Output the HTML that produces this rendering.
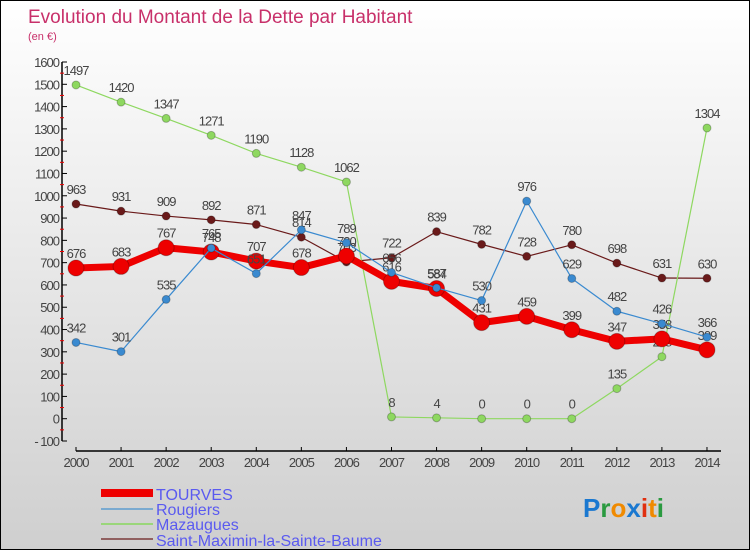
<!DOCTYPE html>
<html><head><meta charset="utf-8"><style>
body{margin:0}
#c{position:relative;width:748px;height:548px;border:1px solid #000;background:linear-gradient(#ffffff,#cfcfcf);font-family:"Liberation Sans",sans-serif;overflow:hidden}
svg text{font-family:"Liberation Sans",sans-serif}
</style></head><body>
<div id="c">
<svg id="s" width="748" height="548">
<text x="27" y="22" font-size="19" fill="#c8306a">Evolution du Montant de la Dette par Habitant</text>
<text x="27" y="39" font-size="11" fill="#c8306a">(en €)</text>
<g id="axes"></g><g id="series"></g>
<g>
<rect x="100" y="488" width="52" height="8" fill="#ee0000"/>
<text x="155" y="499" font-size="16" fill="#5a5af0">TOURVES</text>
<rect x="100" y="507" width="52" height="2" fill="#7aaad0"/>
<text x="155" y="514" font-size="16" fill="#5a5af0">Rougiers</text>
<rect x="100" y="522" width="52" height="2" fill="#9ad67a"/>
<text x="155" y="529" font-size="16" fill="#5a5af0">Mazaugues</text>
<rect x="100" y="537" width="52" height="2" fill="#906060"/>
<text x="155" y="545" font-size="16" fill="#5a5af0">Saint-Maximin-la-Sainte-Baume</text>
</g>
<text x="582" y="516" font-size="26" font-weight="bold"><tspan fill="#1a78d0">P</tspan><tspan fill="#2a9a40">r</tspan><tspan fill="#f08a00">o</tspan><tspan fill="#1a78d0">x</tspan><tspan fill="#e03010">i</tspan><tspan fill="#f08a00">t</tspan><tspan fill="#2a9a40">i</tspan></text>
</svg></div>
<script>
const years=[2000,2001,2002,2003,2004,2005,2006,2007,2008,2009,2010,2011,2012,2013,2014];
const yTicks=[-100,0,100,200,300,400,500,600,700,800,900,1000,1100,1200,1300,1400,1500,1600];
const tourves=[676,683,767,748,707,678,730,616,584,431,459,399,347,358,309];
const rougiers=[342,301,535,765,651,847,789,656,587,530,976,629,482,426,366];
const mazaugues=[1497,1420,1347,1271,1190,1128,1062,8,4,0,0,0,135,278,1304];
const saintMax=[963,931,909,892,871,814,703,722,839,782,728,780,698,631,630];
const NS="http://www.w3.org/2000/svg";
const X=i=>75+i*45.07;
const Y=v=>440-(v+100)*379/1700;
function mk(t,a,p){const e=document.createElementNS(NS,t);for(const k in a)e.setAttribute(k,a[k]);p.appendChild(e);return e;}
const ax=document.getElementById('axes'),sg=document.getElementById('series');
let yl=mk('line',{x1:61,y1:Y(1600),x2:61,y2:Y(-100),stroke:'#000','stroke-width':1.5},ax);


yTicks.forEach((v,i)=>{
 mk('line',{x1:61,x2:66,y1:Y(v),y2:Y(v),stroke:'#000'},ax);
 if(i<yTicks.length-1)mk('line',{x1:59,x2:63,y1:Y(v+50),y2:Y(v+50),stroke:'#e00'},ax);
 const t=mk('text',{x:58,y:Y(v)+5,'font-size':13,fill:'#444','text-anchor':'end','letter-spacing':'-1'},ax);
 
 
 t.textContent=v<0?'- '+(-v):v;
});
let xl=mk('line',{x1:75,y1:450,x2:720,y2:450,stroke:'#000','stroke-width':1.5},ax);


years.forEach((y,i)=>{
 mk('line',{x1:X(i),x2:X(i),y1:446,y2:450,stroke:'#000'},ax);
 const t=mk('text',{x:X(i),y:466,'font-size':13,fill:'#444','text-anchor':'middle','letter-spacing':'-1'},ax);
 
 
 t.textContent=y;
});
function series(data,color,w,r,name){
 const g=mk('g',{},sg);
 
 
 const pl=mk('polyline',{points:data.map((v,i)=>X(i)+','+Y(v)).join(' '),fill:'none',stroke:color,'stroke-width':w,'stroke-linejoin':'round'},g);
 
 
 data.forEach((v,i)=>{
  const c=mk('circle',{cx:X(i),cy:Y(v),r:r,fill:color,stroke:'rgba(0,0,0,0.25)'},g);
  
  
  const t=mk('text',{x:X(i),y:Y(v)-10,'font-size':13,fill:'#444','text-anchor':'middle','letter-spacing':'-1'},g);
  
  
  t.textContent=v;
 });
}
series(saintMax,'#6a1a1a',1.2,4,'saint-maximin');
series(mazaugues,'#8ed860',1.2,4,'mazaugues');
series(tourves,'#ee0000',7,8,'tourves');
series(rougiers,'#3a8ad0',1.2,4,'rougiers');
</script>
</body></html>
